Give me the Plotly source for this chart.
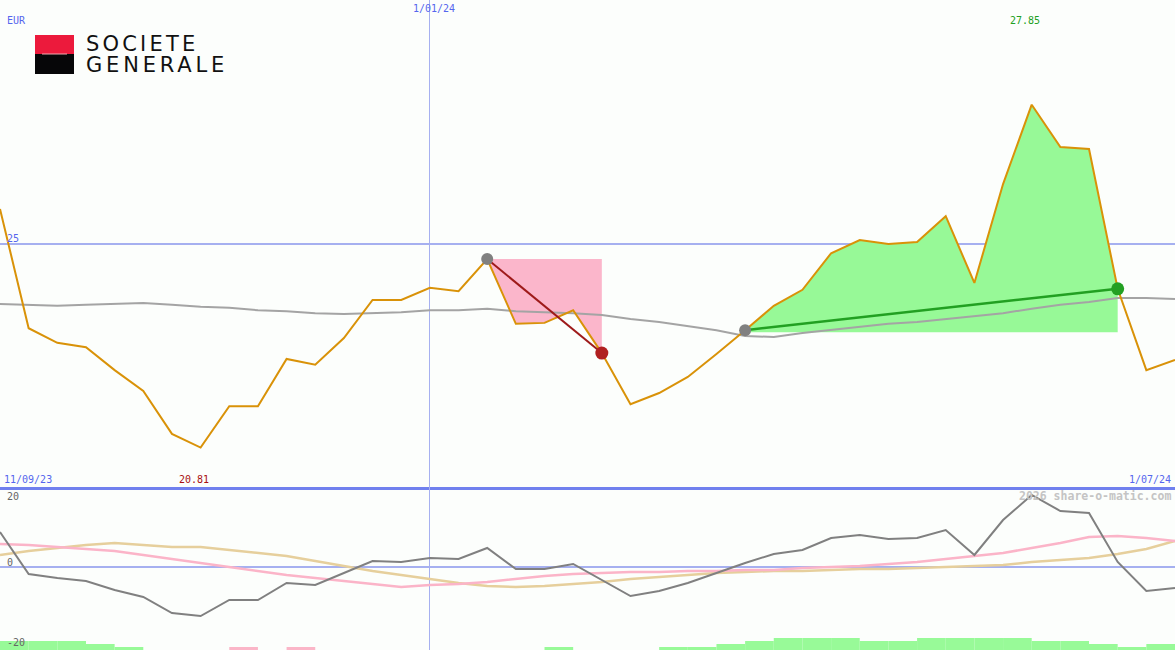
import pandas as pd
import plotly.graph_objects as go

# ---------------- data ----------------
dates = pd.date_range("2023-09-18", periods=42, freq="7D")

price = [25.71, 23.26, 22.96, 22.87, 22.40, 21.97, 21.09, 20.81, 21.66, 21.66,
         22.63, 22.51, 23.06, 23.84, 23.84, 24.09, 24.02, 24.68, 23.35, 23.37,
         23.63, 22.75, 21.70, 21.93, 22.26, 22.73, 23.22, 23.72, 24.05, 24.80,
         25.07, 24.99, 25.03, 25.56, 24.19, 26.22, 27.85, 26.98, 26.94, 24.07,
         22.40, 22.61]

ma = [23.76, 23.74, 23.72, 23.74, 23.76, 23.78, 23.74, 23.70, 23.68, 23.63,
      23.61, 23.57, 23.55, 23.57, 23.59, 23.63, 23.63, 23.66, 23.61, 23.59,
      23.57, 23.53, 23.45, 23.39, 23.31, 23.22, 23.10, 23.08, 23.16, 23.22,
      23.29, 23.35, 23.39, 23.45, 23.51, 23.57, 23.66, 23.74, 23.80, 23.88,
      23.88, 23.86]

osc = [8.75, -1.75, -2.75, -3.5, -5.75, -7.5, -11.5, -12.25, -8.25, -8.25,
       -4, -4.5, -1.5, 1.5, 1.25, 2.25, 2, 4.75, -0.5, -0.5,
       0.75, -3.25, -7.25, -6, -4, -1.5, 1, 3.25, 4.25, 7.25,
       8, 7, 7.25, 9.25, 3, 11.75, 18, 14, 13.5, 1.25,
       -6, -5.25]

osc_pink = [5.75, 5.5, 5, 4.5, 4, 3, 2, 1, 0, -1,
            -2, -2.75, -3.5, -4.25, -5, -4.5, -4.25, -3.75, -3, -2.25,
            -1.75, -1.5, -1.25, -1.25, -1, -1, -0.75, -0.75, -0.25, 0,
            0.25, 0.75, 1.25, 2, 2.75, 3.5, 4.75, 6, 7.5, 7.75,
            7.25, 6.5]

osc_tan = [3, 4, 4.75, 5.5, 6, 5.5, 5, 5, 4.25, 3.5,
           2.75, 1.5, 0.25, -1, -2, -3, -4, -4.75, -5, -4.75,
           -4.25, -3.75, -3, -2.5, -2, -1.5, -1.25, -1, -1, -0.75,
           -0.5, -0.5, -0.25, 0, 0.25, 0.5, 1.25, 1.75, 2.25, 3.25,
           4.5, 6.5]

# weekly signal strength (positive = green, negative = pink), one per interval
signal = [3, 3, 3, 2, 1, 0, 0, 0, -1, 0,
          -1, 0, 0, 0, 0, 0, 0, 0, 0, 1,
          0, 0, 0, 1, 1, 2, 3, 4, 4, 4,
          3, 3, 4, 4, 4, 4, 3, 3, 2, 1, 2]

sell_trade = (17, 21)   # entry index, exit index (losing trade)
buy_trade = (26, 39)    # entry index, exit index (winning trade)

y_main = [20, 30]
y_low = [-20.75, 20]
signal_unit = 0.75

# ---------------- figure ----------------
W, H = 1175, 650
split = 163 / 650
fig = go.Figure()

ORANGE = "#d99208"
GRAY_MA = "#a4a4a4"
NOLINE = dict(width=0, color="rgba(0,0,0,0)")

# pink fill (losing trade)
a, b = sell_trade
fig.add_trace(go.Scatter(x=dates[a:b + 1], y=[price[a]] * (b - a + 1), mode="lines",
                         line=NOLINE, xaxis="x", yaxis="y", hoverinfo="skip"))
fig.add_trace(go.Scatter(x=dates[a:b + 1], y=price[a:b + 1], mode="lines",
                         line=NOLINE, fill="tonexty",
                         fillcolor="#fbb6cb", xaxis="x", yaxis="y", hoverinfo="skip"))
# green fill (winning trade)
c, d = buy_trade
fig.add_trace(go.Scatter(x=dates[c:d + 1], y=[price[c] - 0.04] * (d - c + 1), mode="lines",
                         line=NOLINE, xaxis="x", yaxis="y", hoverinfo="skip"))
fig.add_trace(go.Scatter(x=dates[c:d + 1], y=price[c:d + 1], mode="lines",
                         line=NOLINE, fill="tonexty",
                         fillcolor="#97f997", xaxis="x", yaxis="y", hoverinfo="skip"))

# moving average
fig.add_trace(go.Scatter(x=dates, y=ma, mode="lines", line=dict(color=GRAY_MA, width=2),
                         xaxis="x", yaxis="y"))
# price
fig.add_trace(go.Scatter(x=dates, y=price, mode="lines", line=dict(color=ORANGE, width=2),
                         xaxis="x", yaxis="y"))

# trade lines
fig.add_trace(go.Scatter(x=[dates[a], dates[b]], y=[price[a], price[b]], mode="lines",
                         line=dict(color="#9e1a1a", width=2), xaxis="x", yaxis="y"))
fig.add_trace(go.Scatter(x=[dates[c], dates[d]], y=[price[c], price[d]], mode="lines",
                         line=dict(color="#22a022", width=2.5), xaxis="x", yaxis="y"))
# trade markers
fig.add_trace(go.Scatter(x=[dates[a], dates[c]], y=[price[a], price[c]], mode="markers",
                         marker=dict(color="#808080", size=12), xaxis="x", yaxis="y"))
fig.add_trace(go.Scatter(x=[dates[b]], y=[price[b]], mode="markers",
                         marker=dict(color="#b02020", size=13), xaxis="x", yaxis="y"))
fig.add_trace(go.Scatter(x=[dates[d]], y=[price[d]], mode="markers",
                         marker=dict(color="#22a022", size=13), xaxis="x", yaxis="y"))

# ---- lower panel ----
week_ms = 7 * 24 * 3600 * 1000
bar_x = [dt + pd.Timedelta(days=3.5) for dt in dates[:-1]]
bar_h = [abs(s) * signal_unit for s in signal]
bar_c = ["#98fa98" if s > 0 else "#fbb6c8" for s in signal]
fig.add_trace(go.Bar(x=bar_x, y=bar_h, base=y_low[0], width=week_ms,
                     marker=dict(color=bar_c, line=dict(width=0)),
                     xaxis="x2", yaxis="y2"))

fig.add_trace(go.Scatter(x=dates, y=osc_tan, mode="lines", line=dict(color="#e6cf9c", width=2.5),
                         xaxis="x2", yaxis="y2"))
fig.add_trace(go.Scatter(x=dates, y=osc_pink, mode="lines", line=dict(color="#fbb4c8", width=2.5),
                         xaxis="x2", yaxis="y2"))
fig.add_trace(go.Scatter(x=dates, y=osc, mode="lines", line=dict(color="#808080", width=2),
                         xaxis="x2", yaxis="y2"))

# ---------------- layout ----------------
GRID = "#a6b0f0"
xr = [dates[0], dates[-1]]
common_x = dict(range=xr, tickvals=[pd.Timestamp("2024-01-01")], showgrid=True, gridcolor=GRID,
                gridwidth=1, showticklabels=False, ticks="", zeroline=False)

fig.update_layout(
    width=W, height=H, margin=dict(l=0, r=0, t=0, b=0),
    paper_bgcolor="#fcfefc", plot_bgcolor="#fcfefc",
    showlegend=False, hovermode=False, barmode="overlay",
    xaxis=dict(domain=[0, 1], anchor="y", showline=True, linecolor="#7080ee", linewidth=3,
               **common_x),
    xaxis2=dict(domain=[0, 1], anchor="y2", matches="x", showline=False, **common_x),
    yaxis=dict(domain=[split, 1], range=y_main, tickvals=[25], showgrid=True, gridcolor=GRID,
               gridwidth=2, showticklabels=False, ticks="", zeroline=False),
    yaxis2=dict(domain=[0, split], range=y_low, tickvals=[0], showgrid=True, gridcolor=GRID,
                gridwidth=2, showticklabels=False, ticks="", zeroline=False),
)


def px(x):
    return x / W


def py(y):
    return 1 - y / H


MONO = "DejaVu Sans Mono"
BLUE_T = "#5566ee"
labels = [
    ("EUR", 5, 20, "left", BLUE_T, 10),
    ("1/01/24", 434, 9, "center", BLUE_T, 10),
    ("27.85", 1025, 21, "center", "#22a022", 10),
    ("11/09/23", 2, 479, "left", BLUE_T, 10),
    ("20.81", 194, 479, "center", "#a81010", 10),
    ("1/07/24", 1173, 479, "right", BLUE_T, 10),
    ("25", 5, 238, "left", BLUE_T, 10),
    ("20", 5, 496, "left", "#666666", 10),
    ("0", 5, 562, "left", "#666666", 10),
    ("-20", 5, 642, "left", "#666666", 10),
]
for text, x, y, anc, col, sz in labels:
    fig.add_annotation(text=text, x=px(x), y=py(y), xref="paper", yref="paper",
                       xanchor=anc, yanchor="middle", showarrow=False,
                       font=dict(family=MONO, size=sz, color=col))

fig.add_annotation(text="<b>2026 share-o-matic.com</b>", x=px(1173), y=py(496), xref="paper", yref="paper",
                   xanchor="right", yanchor="middle", showarrow=False,
                   font=dict(family=MONO, size=11.5, color="#c4c4c4"))

# logo
fig.add_shape(type="rect", xref="paper", yref="paper", x0=px(35), x1=px(74), y0=py(54), y1=py(35),
              fillcolor="#ec1a3c", line=dict(width=0), layer="above")
fig.add_shape(type="rect", xref="paper", yref="paper", x0=px(35), x1=px(74), y0=py(74), y1=py(54),
              fillcolor="#060608", line=dict(width=0), layer="above")
fig.add_shape(type="line", xref="paper", yref="paper", x0=px(42), x1=px(67), y0=py(54), y1=py(54),
              line=dict(color="#f0a8b0", width=1), layer="above")
for text, y, sp in [("SOCIETE", 44, 3.2), ("GENERALE", 64.5, 3.8)]:
    fig.add_annotation(text=f'<span style="letter-spacing:{sp}px">{text}</span>', x=px(84), y=py(y),
                       xref="paper", yref="paper",
                       xanchor="left", yanchor="middle", showarrow=False,
                       font=dict(family="DejaVu Sans", size=21, color="#111111"))

fig.write_html("out.html", config={"displayModeBar": False, "staticPlot": True},
               post_script="document.body.style.margin='0';document.body.style.overflow='hidden';"
                           "document.documentElement.style.overflow='hidden';")
